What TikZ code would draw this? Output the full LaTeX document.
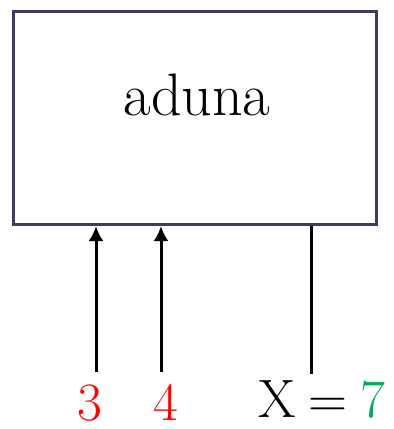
\documentclass[tikz,border=0pt]{standalone}
\usepackage{xcolor}
\usetikzlibrary{arrows.meta,positioning}
\definecolor{frameblue}{RGB}{60,60,100}
\definecolor{valgreen}{RGB}{0,168,80}

\begin{document}
\begin{tikzpicture}[
    x=1pt, y=-1pt,
    box/.style={rectangle, draw=frameblue, line width=3pt, minimum width=363pt, minimum height=213pt, inner sep=0pt},
    arrow/.style={-{Latex[length=15pt,width=15pt]}, line width=3pt},
    wire/.style={line width=3pt},
    lbl/.style={anchor=base, inner sep=0pt, font=\fontsize{54}{60}\selectfont}
]
    \useasboundingbox (0,0) rectangle (394,429);
    \node[box] (frame) at (195,118) {};
    \node[anchor=base, inner sep=0pt, font=\fontsize{60}{70}\selectfont] (title) at (197,115) {aduna};

    \node[lbl, text=red] (in3) at (90,420) {3};
    \node[lbl, text=red] (in4) at (166,420) {4};
    \node[lbl] (out) at (322,417) {X\hspace{13pt}=\hspace{13pt}\textcolor{valgreen}{7}};

    \coordinate (s3) at (96,372);
    \coordinate (s4) at (161,372);
    \coordinate (sx) at (311,374);

    \draw[arrow] (s3) -- (s3 |- frame.south);
    \draw[arrow] (s4) -- (s4 |- frame.south);
    \draw[wire] (sx) -- (sx |- frame.south);
\end{tikzpicture}
\end{document}
